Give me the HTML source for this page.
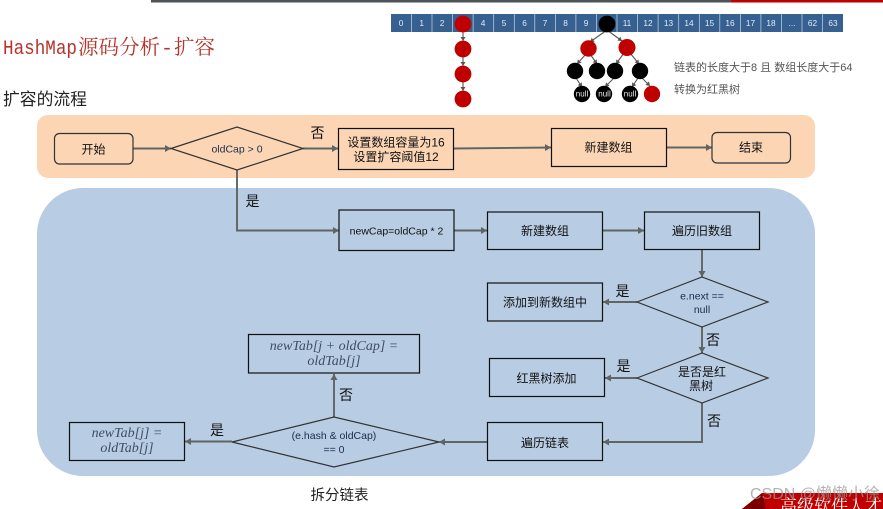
<!DOCTYPE html>
<html><head><meta charset="utf-8"><style>
html,body{margin:0;padding:0;background:#fff;width:883px;height:509px;overflow:hidden}
svg{display:block}
text{font-family:"Liberation Sans","Noto Sans CJK SC",sans-serif;text-anchor:middle;fill:#111}
.t{font-size:12px}
.lab{font-size:14px}
.cell{font-size:8.300px;fill:#e4eaf3}
.nl{font-size:8px;fill:#eee}
.i{font-size:14px;font-style:italic;fill:#3f4d63;font-family:"Liberation Serif",serif}
.b{fill:none;stroke:#111;stroke-width:1.2}
.l{fill:none;stroke:#5f6464;stroke-width:1.900}
.d{fill:none;stroke:#333;stroke-width:1.200}
.s{fill:none;stroke:#555;stroke-width:1.100}
.ti{text-anchor:start;fill:#b8322a}
.pic{filter:blur(.35px)}
</style></head><body>
<svg width="883" height="509" viewBox="0 0 883 509" xmlns="http://www.w3.org/2000/svg">
<defs>
<marker id="a" markerUnits="userSpaceOnUse" markerWidth="7" markerHeight="7" refX="6" refY="3.500" orient="auto"><path d="M0 0L6 3.500L0 7Z" fill="#5f6464"/></marker>
<marker id="m" markerUnits="userSpaceOnUse" markerWidth="5" markerHeight="5" refX="4" refY="2.500" orient="auto"><path d="M0 0L4 2.500L0 5Z" fill="#555"/></marker>
</defs>
<rect x="151" y="0" width="580" height="2.500" fill="#4d5356"/>
<rect x="731" y="0" width="152" height="2.500" fill="#c00000"/>

<g class="pic">
<!-- array -->
<rect x="391" y="14" width="452" height="18" fill="#35608f"/>
<g stroke="#c9d5e4" stroke-width="0.700">
<path d="M411.500 14V32M432 14V32M452.600 14V32M473.100 14V32M493.700 14V32M514.300 14V32M534.800 14V32M555.400 14V32M575.900 14V32M596.500 14V32M617 14V32M637.600 14V32M658.100 14V32M678.700 14V32M699.300 14V32M719.800 14V32M740.400 14V32M760.900 14V32M781.500 14V32M802 14V32M822.500 14V32"/>
</g>
<text class="cell" x="401" y="26">0</text><text class="cell" x="421.700" y="26">1</text><text class="cell" x="442" y="26">2</text>
<text class="cell" x="483" y="26">4</text><text class="cell" x="504" y="26">5</text><text class="cell" x="524.500" y="26">6</text><text class="cell" x="545" y="26">7</text><text class="cell" x="565.500" y="26">8</text><text class="cell" x="586" y="26">9</text>
<text class="cell" x="627" y="26">11</text><text class="cell" x="648" y="26">12</text><text class="cell" x="668.500" y="26">13</text><text class="cell" x="689" y="26">14</text><text class="cell" x="709.500" y="26">15</text><text class="cell" x="730" y="26">16</text><text class="cell" x="750.500" y="26">17</text><text class="cell" x="771" y="26">18</text><text class="cell" x="792" y="26">...</text><text class="cell" x="812.500" y="26">62</text><text class="cell" x="833" y="26">63</text>

<!-- list & tree links -->
<g class="s">
<path marker-end="url(#m)" d="M463 31V41"/><path marker-end="url(#m)" d="M463 57V66"/><path marker-end="url(#m)" d="M463 82V91"/>
<path marker-end="url(#m)" d="M607 30L590 42"/><path marker-end="url(#m)" d="M607 30L622 41"/>
<path marker-end="url(#m)" d="M586 54L577 64"/><path marker-end="url(#m)" d="M590 54L597 64"/>
<path marker-end="url(#m)" d="M624 53L616 64"/><path marker-end="url(#m)" d="M630 53L639 64"/>
<path marker-end="url(#m)" d="M576 78L582 87"/><path marker-end="url(#m)" d="M614 78L605 87"/>
<path marker-end="url(#m)" d="M638 78L632 87"/><path marker-end="url(#m)" d="M642 78L650 86"/>
</g>
<g fill="#c00000">
<circle cx="463" cy="24" r="8.400"/><circle cx="463" cy="49" r="8.400"/><circle cx="463" cy="74" r="8.400"/><circle cx="463" cy="99" r="8.400"/>
<circle cx="588.500" cy="48.500" r="8.200"/><circle cx="627" cy="47.500" r="8.500"/><circle cx="652" cy="94" r="8.200"/>
</g>
<g fill="#000">
<circle cx="607" cy="24" r="8.400"/>
<circle cx="575" cy="71" r="8.200"/><circle cx="597" cy="71" r="8.200"/><circle cx="615" cy="71" r="8.200"/><circle cx="640" cy="71" r="8.200"/>
<circle cx="582" cy="94" r="8.200"/><circle cx="604" cy="94" r="8.200"/><circle cx="630" cy="94" r="8.200"/>
</g>
<text class="nl" x="582" y="96.500">null</text><text class="nl" x="604.500" y="96.500">null</text><text class="nl" x="630" y="96.500">null</text>
<text x="674" y="71" style="font-size:11px;text-anchor:start;fill:#555">链表的长度大于8 且 数组长度大于64</text>
<text x="674" y="93" style="font-size:11px;text-anchor:start;fill:#555">转换为红黑树</text>
</g>

<!-- headings -->
<text class="ti" x="3" y="54" textLength="74" lengthAdjust="spacingAndGlyphs" style="font-size:20px;font-family:'Liberation Mono',monospace">HashMap</text>
<text class="ti" x="78" y="54" style="font-size:20.500px;font-family:'Noto Serif CJK SC',serif">源码分析</text>
<text class="ti" x="161" y="54" style="font-size:20px;font-family:'Liberation Mono',monospace">-</text>
<text class="ti" x="174" y="54" style="font-size:20.500px;font-family:'Noto Serif CJK SC',serif">扩容</text>
<text x="3" y="105" style="text-anchor:start;font-size:16.800px;fill:#222">扩容的流程</text>

<!-- panels -->
<rect x="37" y="115" width="778" height="63" rx="11" fill="#fcd5b5"/>
<rect x="37" y="188" width="778" height="288" rx="46" fill="#b8cce4"/>

<!-- connectors -->
<g class="l">
<path marker-end="url(#a)" d="M133 148.500H171"/>
<path marker-end="url(#a)" d="M303 148.500H338"/>
<path marker-end="url(#a)" d="M454 148.500L551 147.500"/>
<path marker-end="url(#a)" d="M667 147.500H712"/>
<path marker-end="url(#a)" d="M237 170V230.500H339"/>
<path marker-end="url(#a)" d="M454 230.500H487"/>
<path marker-end="url(#a)" d="M603 230.500H644"/>
<path marker-end="url(#a)" d="M702 249V277"/>
<path marker-end="url(#a)" d="M637 302H603"/>
<path marker-end="url(#a)" d="M702 327V353"/>
<path marker-end="url(#a)" d="M637 378H605"/>
<path marker-end="url(#a)" d="M702 403V442H603"/>
<path marker-end="url(#a)" d="M487 442H439"/>
<path marker-end="url(#a)" d="M334 417V374"/>
<path marker-end="url(#a)" d="M232 441.500H185"/>
</g>

<!-- shapes -->
<rect class="d" x="54.500" y="133.500" width="78.500" height="30.500" rx="5"/>
<path class="d" d="M171 148.500L237 127L303 148.500L237 170Z"/>
<rect class="b" x="338.500" y="128.500" width="115" height="41"/>
<rect class="b" x="551.500" y="128.500" width="115" height="38"/>
<rect class="d" x="712" y="132.500" width="78.500" height="30.500" rx="5"/>
<rect class="b" x="339" y="210" width="115" height="40.500"/>
<rect class="b" x="487.500" y="212" width="115" height="37.500"/>
<rect class="b" x="644.500" y="212" width="115" height="37.500"/>
<path class="d" d="M637 302L702 277L768 302L702 327Z"/>
<rect class="b" x="487.500" y="283" width="115" height="38"/>
<path class="d" d="M637 378L702 353L768 378L702 403Z"/>
<rect class="b" x="489.500" y="358.500" width="115" height="38"/>
<rect class="b" x="487.500" y="422.500" width="115" height="38"/>
<path class="d" d="M232 442L334 417L439 442L334 467Z"/>
<rect class="b" x="248.500" y="334.500" width="171" height="38.500"/>
<rect class="b" x="69.500" y="422.500" width="115" height="38"/>

<!-- node text -->
<text class="t" x="93.500" y="153.500">开始</text>
<text x="237" y="152.500" style="font-size:10.500px;fill:#1c2c4c">oldCap &gt; 0</text>
<text class="t" x="396" y="146.500">设置数组容量为16</text>
<text class="t" x="396" y="161">设置扩容阈值12</text>
<text class="t" x="608.500" y="151.500">新建数组</text>
<text class="t" x="751" y="151.500">结束</text>
<text x="396.500" y="234.500" style="font-size:10.500px">newCap=oldCap * 2</text>
<text class="t" x="545" y="235">新建数组</text>
<text class="t" x="702" y="235">遍历旧数组</text>
<text x="702" y="299.500" style="font-size:10.500px;fill:#1c2c4c">e.next ==</text>
<text x="702" y="313" style="font-size:10.500px;fill:#1c2c4c">null</text>
<text class="t" x="545" y="306.500">添加到新数组中</text>
<text class="t" x="702" y="376">是否是红</text>
<text class="t" x="701" y="390">黑树</text>
<text class="t" x="546.500" y="382.500">红黑树添加</text>
<text class="t" x="545" y="447">遍历链表</text>
<text x="334" y="439" style="font-size:10.500px;fill:#1c2c4c">(e.hash &amp; oldCap)</text>
<text x="334" y="453" style="font-size:10.500px;fill:#1c2c4c">== 0</text>
<text class="i" x="334" y="350">newTab[j + oldCap] =</text>
<text class="i" x="334" y="365">oldTab[j]</text>
<text class="i" x="127" y="437">newTab[j] =</text>
<text class="i" x="127" y="452">oldTab[j]</text>

<!-- labels -->
<text class="lab" x="317.500" y="138">否</text>
<text class="lab" x="252.500" y="206">是</text>
<text class="lab" x="622.500" y="296">是</text>
<text class="lab" x="713" y="345">否</text>
<text class="lab" x="623.500" y="371">是</text>
<text class="lab" x="714" y="426">否</text>
<text class="lab" x="346" y="400">否</text>
<text class="lab" x="217" y="435">是</text>
<text x="339.500" y="500" style="font-size:14.500px;fill:#222">拆分链表</text>

<!-- banner -->
<path d="M742 509L762 493H883V509Z" fill="#c00000"/>
<path d="M742 509L762 493L766 509Z" fill="#7a0000"/>
<text x="831" y="512" style="font-size:17px;fill:#fff;font-family:'Noto Serif CJK SC',serif">高级软件人才</text>
<text x="815" y="499" style="font-size:16px;fill:#999;opacity:.75">CSDN @懒懒小徐</text>
</svg>
</body></html>
